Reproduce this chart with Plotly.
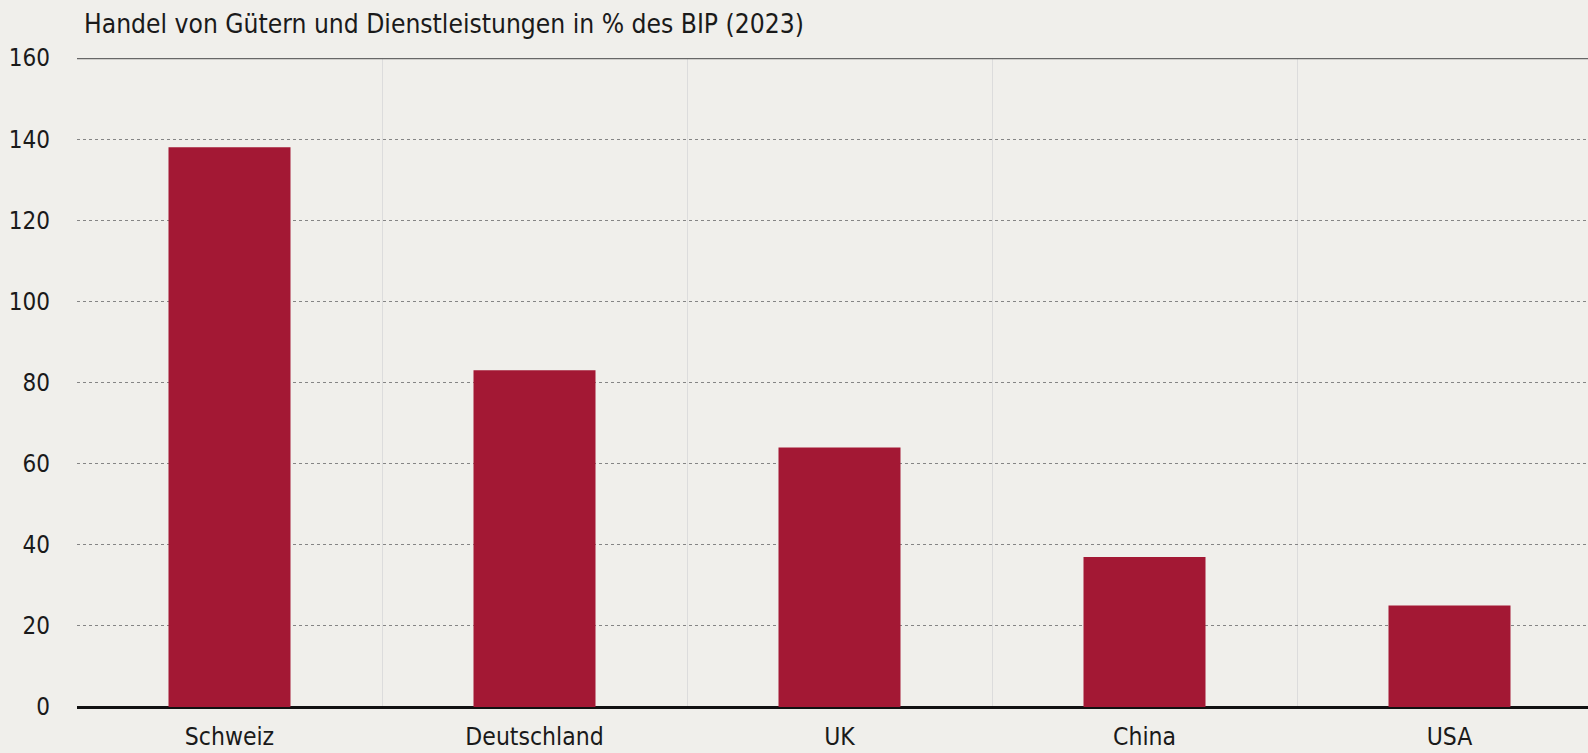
import plotly.graph_objects as go

categories = ["Schweiz", "Deutschland", "UK", "China", "USA"]
values = [138, 83, 64, 37, 25]
title_text = "Handel von Gütern und Dienstleistungen in % des BIP (2023)"

FONT = "DejaVu Sans Condensed, Liberation Sans Narrow, sans-serif"
BG = "#F0EFEB"
BAR = "#A31834"

fig = go.Figure()
fig.add_trace(go.Bar(x=categories, y=values, marker=dict(color=BAR, line=dict(width=0)), width=0.4))

fig.update_layout(
    width=1602, height=753,
    paper_bgcolor=BG, plot_bgcolor=BG,
    margin=dict(l=77, r=0, t=58, b=46),
    showlegend=False,
    font=dict(family=FONT, size=24, color="#1a1a1a"),
    annotations=[dict(text=title_text, xref="paper", yref="paper", x=0.0035, y=1.0,
                      xanchor="left", yanchor="bottom", yshift=17, showarrow=False,
                      font=dict(family=FONT, size=26.2, color="#1a1a1a"))],
    shapes=[dict(type="line", xref="paper", yref="y", x0=0, x1=1, y0=160, y1=160,
                 line=dict(color="#676767", width=2.5))],
)
fig.update_xaxes(type="category", tickson="boundaries", showgrid=True, gridcolor="#dcdcdc",
                 gridwidth=1, ticks="", showline=False, zeroline=False, automargin=False,
                 tickfont=dict(size=24.5), ticklabelstandoff=12)
fig.update_yaxes(range=[0, 160], dtick=20, showgrid=True, gridcolor="#858585", gridwidth=1.3,
                 griddash="3px,3px", zeroline=True, zerolinecolor="#111111", zerolinewidth=3,
                 showline=False, ticks="", automargin=False,
                 tickfont=dict(size=24), ticklabelstandoff=26)

fig.write_html("out.html", config={"displayModeBar": False},
               post_script="document.body.style.margin='0';document.body.style.overflow='hidden';")
